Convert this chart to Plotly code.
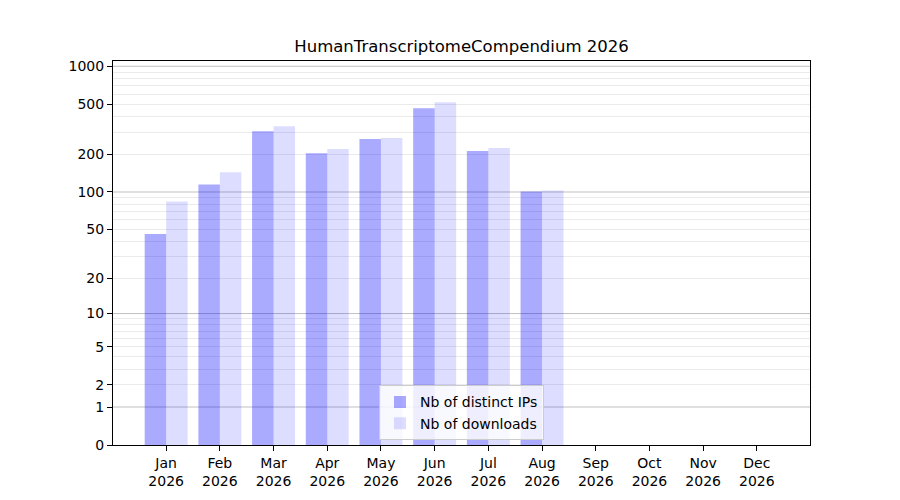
import plotly.graph_objects as go

MONTHS = ["Jan", "Feb", "Mar", "Apr", "May", "Jun",
          "Jul", "Aug", "Sep", "Oct", "Nov", "Dec"]
YEAR = "2026"
DISTINCT_IPS = [46, 115, 305, 204, 264, 465, 212, 101, 0, 0, 0, 0]
DOWNLOADS = [84, 144, 334, 220, 269, 519, 224, 103, 0, 0, 0, 0]
Y_TICKS = [0, 1, 2, 5, 10, 20, 50, 100, 200, 500, 1000]
MAJOR_GRID = [1, 10, 100, 1000]
MINOR_GRID = [m * d for d in (1, 10, 100) for m in range(2, 10)]

FONT = "DejaVu Sans"

# symlog-like axis: plot 1 + value on a log axis, label with value
def shift(vals):
    return [v + 1 for v in vals]


categories = [f"{m}<br>{YEAR}" for m in MONTHS]

fig = go.Figure()
fig.add_trace(go.Bar(x=categories, y=shift(DISTINCT_IPS),
                     name="Nb of distinct IPs",
                     marker=dict(color="rgba(0,0,255,0.333)", line=dict(width=0))))
fig.add_trace(go.Bar(x=categories, y=shift(DOWNLOADS),
                     name="Nb of downloads",
                     marker=dict(color="rgba(0,0,255,0.133)", line=dict(width=0))))

for g in MAJOR_GRID:
    fig.add_shape(type="line", xref="paper", x0=0, x1=1, yref="y",
                  y0=g + 1, y1=g + 1, layer="below",
                  line=dict(color="#c0c0c0", width=1))

# page body adds an 8px offset, so margins are shifted accordingly
fig.update_layout(
    width=900, height=500,
    margin=dict(l=105, r=98, t=53, b=63),
    paper_bgcolor="white", plot_bgcolor="white",
    font=dict(family=FONT, size=14, color="black"),
    title=dict(text="HumanTranscriptomeCompendium 2026", x=0.5, xref="paper",
               xanchor="center", y=0.912, yanchor="bottom",
               yref="container", font=dict(size=16.5)),
    barmode="group", bargap=0.2, bargroupgap=0,
    showlegend=True,
    legend=dict(x=0.5, xanchor="center", y=0.012, yanchor="bottom",
                bgcolor="rgba(255,255,255,0.8)", bordercolor="#cccccc",
                borderwidth=1, font=dict(size=14),
                tracegroupgap=0, itemwidth=30),
)
fig.update_xaxes(range=[-0.99, 11.99], showgrid=False, automargin=False,
                 showline=True, linecolor="black", linewidth=1.1, mirror=True,
                 ticks="outside", ticklen=5, tickwidth=1.1, tickcolor="black")
fig.update_yaxes(type="log", range=[0, 3.042], automargin=False,
                 tickvals=shift(Y_TICKS), ticktext=[str(t) for t in Y_TICKS],
                 showgrid=False, zeroline=False,
                 showline=True, linecolor="black", linewidth=1.1, mirror=True,
                 ticks="outside", ticklen=5, tickwidth=1.1, tickcolor="black",
                 minor=dict(tickvals=shift(MINOR_GRID), ticks="", showgrid=True,
                            gridcolor="#ebebeb", gridwidth=1))

fig.write_html("out.html")
